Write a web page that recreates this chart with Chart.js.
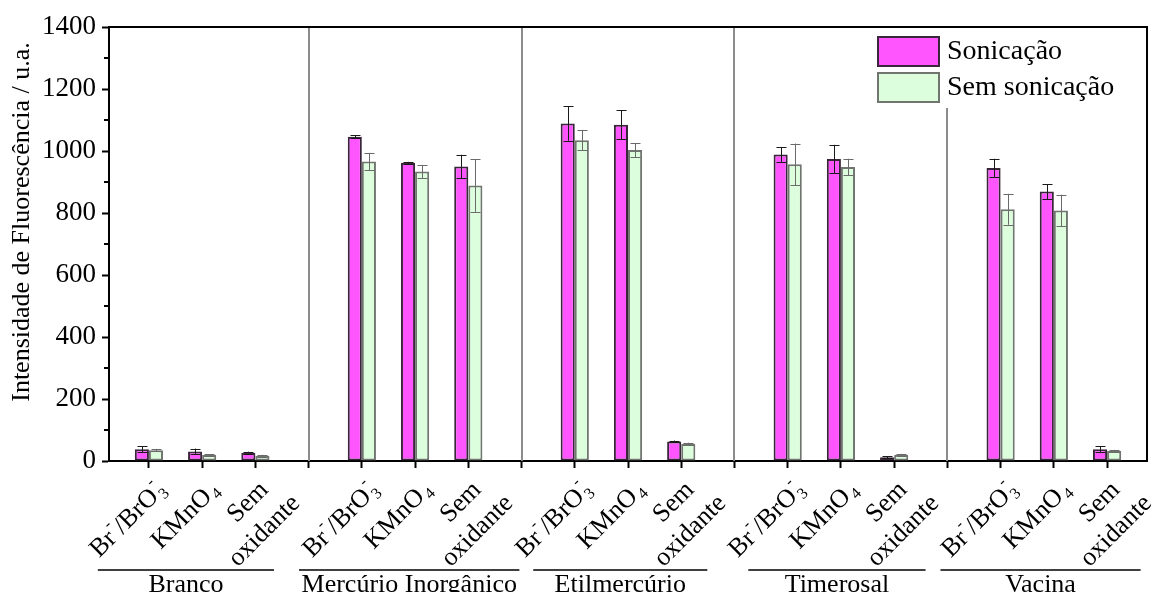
<!DOCTYPE html>
<html>
<head>
<meta charset="utf-8">
<script src="https://cdn.jsdelivr.net/npm/chart.js@4.4.1/dist/chart.umd.min.js"></script>
<style>
  html, body { margin: 0; padding: 0; background: #fff; }
  #wrap { width: 1155px; height: 592px; position: relative; }
</style>
</head>
<body>
<div id="wrap"><canvas id="c"></canvas></div>
<script>
// Sample groups and the oxidant treatments measured in each
const groups = ['Branco', 'Mercúrio Inorgânico', 'Etilmercúrio', 'Timerosal', 'Vacina'];
// Markup: _{..} subscript, ^{..} superscript, \n new line
const oxidants = ['Br^{-}/BrO_{3}^{-}', 'KMnO_{4}', 'Sem\noxidante'];

// Fluorescence intensity (u.a.), in group order, 3 oxidants per group
const sonicacao      = [38, 31, 27,   1046, 962, 950,   1089, 1085, 63,   989, 974, 12,   945, 869, 38];
const semSonicacao   = [35, 19, 17,   966, 934, 889,    1035, 1003, 55,   957, 948, 20,   812, 808, 32];
// Standard deviations
const errSonicacao    = [10, 9, 3,    5, 3, 38,     56, 47, 3,    24, 46, 3,    30, 24, 9];
const errSemSonicacao = [4, 3, 3,     28, 21, 85,   33, 23, 4,    67, 27, 3,    50, 51, 4];

const yTicks = [0, 200, 400, 600, 800, 1000, 1200, 1400];

// Group underline extents, in x-axis units
const groupSpans = [[-0.96, 2.35], [2.82, 6.96], [7.22, 10.49], [11.26, 14.59], [14.87, 18.63]];

// Each group takes 3 slots plus one empty slot as separator
const slot = (g, k) => g * 4 + k;
const xPositions = [];
groups.forEach((g, gi) => oxidants.forEach((o, k) => xPositions.push(slot(gi, k))));
const separators = groups.slice(1).map((g, gi) => slot(gi, 3));
const allTicks = [];
for (let v = 0; v <= slot(groups.length - 1, 2); v++) allTicks.push(v);

const SERIF = '"Liberation Serif", "Times New Roman", serif';

function parseRich(str) {
  // returns array of lines; each line is array of {t, kind, sup}
  return str.split('\n').map(line => {
    const segs = [];
    let i = 0;
    while (i < line.length) {
      const c = line[i];
      if ((c === '_' || c === '^') && line[i + 1] === '{') {
        const end = line.indexOf('}', i);
        const txt = line.slice(i + 2, end);
        i = end + 1;
        if (c === '^' && segs.length && segs[segs.length - 1].kind === 'sub') {
          segs[segs.length - 1].sup = txt;
        } else {
          segs.push({ t: txt, kind: c === '_' ? 'sub' : 'sup' });
        }
      } else {
        let j = i;
        while (j < line.length && !((line[j] === '_' || line[j] === '^') && line[j + 1] === '{')) j++;
        segs.push({ t: line.slice(i, j), kind: 'n' });
        i = j;
      }
    }
    return segs;
  });
}

function segWidth(ctx, s, size, small) {
  if (s.kind === 'n') { ctx.font = size + 'px ' + SERIF; return ctx.measureText(s.t).width; }
  ctx.font = small + 'px ' + SERIF;
  let w = ctx.measureText(s.t).width;
  if (s.sup) w = Math.max(w, ctx.measureText(s.sup).width);
  return w + 2;
}

function drawRichLine(ctx, segs, xEnd, size) {
  // draws line right-aligned so that it ends at xEnd, vertical middle at y=0
  const small = Math.round(size * 0.62);
  const total = segs.reduce((a, s) => a + segWidth(ctx, s, size, small), 0);
  let x = xEnd - total;
  ctx.textBaseline = 'middle';
  ctx.textAlign = 'left';
  segs.forEach(s => {
    const w = segWidth(ctx, s, size, small);
    if (s.kind === 'n') {
      ctx.font = size + 'px ' + SERIF;
      ctx.fillText(s.t, x, 0);
    } else {
      ctx.font = small + 'px ' + SERIF;
      if (s.kind === 'sub') {
        ctx.fillText(s.t, x + 2, size * 0.28);
        if (s.sup) ctx.fillText(s.sup, x + 2, -size * 0.42);
      } else {
        ctx.fillText(s.t, x + 1, -size * 0.42);
      }
    }
    x += w;
  });
  return total;
}

const decorations = {
  id: 'decorations',
  beforeDatasetsDraw(chart) {
    const { ctx, chartArea: a, scales: { x } } = chart;
    ctx.save();
    ctx.strokeStyle = '#8c8c8c';
    ctx.lineWidth = 2;
    separators.forEach(v => {
      const px = Math.round(x.getPixelForValue(v));
      ctx.beginPath();
      ctx.moveTo(px, a.top);
      ctx.lineTo(px, a.bottom);
      ctx.stroke();
    });
    ctx.restore();
  },
  afterDatasetsDraw(chart) {
    const { ctx, scales: { y } } = chart;
    const errs = [errSonicacao, errSemSonicacao];
    const colors = ['#1a1a1a', '#6a6a6a'];
    ctx.save();
    ctx.lineWidth = 1;
    chart.data.datasets.forEach((ds, di) => {
      const meta = chart.getDatasetMeta(di);
      ctx.strokeStyle = colors[di];
      meta.data.forEach((bar, i) => {
        const v = ds.data[i].y, e = errs[di][i];
        const cx = Math.round(bar.x) + 0.5;
        const y1 = y.getPixelForValue(v + e), y2 = y.getPixelForValue(v - e);
        ctx.beginPath();
        ctx.moveTo(cx, y1); ctx.lineTo(cx, y2);
        ctx.moveTo(cx - 5, Math.round(y1) + 0.5); ctx.lineTo(cx + 5, Math.round(y1) + 0.5);
        ctx.moveTo(cx - 5, Math.round(y2) + 0.5); ctx.lineTo(cx + 5, Math.round(y2) + 0.5);
        ctx.stroke();
      });
    });
    ctx.restore();
  },
  afterDraw(chart) {
    const { ctx, chartArea: a, scales: { x, y } } = chart;
    ctx.save();
    // frame top and right
    ctx.strokeStyle = '#000';
    ctx.lineWidth = 2;
    ctx.beginPath();
    ctx.moveTo(a.left - 1, a.top);
    ctx.lineTo(a.right, a.top);
    ctx.lineTo(a.right, a.bottom + 1);
    ctx.stroke();
    // minor y ticks
    for (let v = 100; v < 1400; v += 200) {
      const py = Math.round(y.getPixelForValue(v));
      ctx.beginPath();
      ctx.moveTo(a.left - 5, py);
      ctx.lineTo(a.left, py);
      ctx.stroke();
    }

    // legend
    const lx = a.right - 285, ly = a.top + 1;
    ctx.fillStyle = '#fff';
    ctx.fillRect(lx, ly, 283, 80);
    chart.data.datasets.forEach((ds, di) => {
      const bx = lx + 16, by = ly + 9 + di * 36;
      ctx.fillStyle = ds.backgroundColor;
      ctx.fillRect(bx, by, 61, 29);
      ctx.strokeStyle = ds.borderColor;
      ctx.lineWidth = 2;
      ctx.strokeRect(bx, by, 61, 29);
      ctx.fillStyle = '#000';
      ctx.font = '28px ' + SERIF;
      ctx.textAlign = 'left';
      ctx.textBaseline = 'middle';
      ctx.fillText(ds.label, bx + 69, by + 15);
    });

    // y-axis title
    ctx.save();
    ctx.translate(22, (a.top + a.bottom) / 2 - 22);
    ctx.rotate(-Math.PI / 2);
    ctx.fillStyle = '#000';
    ctx.font = '26px ' + SERIF;
    ctx.textAlign = 'center';
    ctx.textBaseline = 'middle';
    ctx.fillText('Intensidade de Fluorescência / u.a.', 0, 0);
    ctx.restore();

    // rotated oxidant labels
    const size = 26;
    const parsed = oxidants.map(parseRich);
    ctx.fillStyle = '#000';
    xPositions.forEach((xv, i) => {
      const lines = parsed[i % oxidants.length];
      const px = x.getPixelForValue(xv);
      ctx.save();
      ctx.translate(px + (lines.length > 1 ? 9 : 13), a.bottom + 25);
      ctx.rotate(-Math.PI / 4);
      const small = Math.round(size * 0.62);
      const widths = lines.map(l => l.reduce((s, seg) => s + segWidth(ctx, seg, size, small), 0));
      const w0 = widths[0];
      lines.forEach((l, li) => {
        ctx.save();
        ctx.translate(0, li * 32);
        // following lines stick out a little past the first one
        drawRichLine(ctx, l, (widths[li] - w0) * 0.3, size);
        ctx.restore();
      });
      ctx.restore();
    });

    // group underlines and names
    ctx.strokeStyle = '#000';
    ctx.lineWidth = 1.5;
    ctx.font = '26px ' + SERIF;
    ctx.textAlign = 'center';
    ctx.textBaseline = 'alphabetic';
    groups.forEach((g, gi) => {
      const x1 = x.getPixelForValue(groupSpans[gi][0]);
      const x2 = x.getPixelForValue(groupSpans[gi][1]);
      ctx.beginPath();
      ctx.moveTo(x1, 570);
      ctx.lineTo(x2, 570);
      ctx.stroke();
      ctx.fillText(g, (x1 + x2) / 2, 592);
    });
    ctx.restore();
  }
};

const toPoints = arr => arr.map((v, i) => ({ x: xPositions[i], y: v }));

new Chart(document.getElementById('c'), {
  type: 'bar',
  data: {
    datasets: [
      {
        label: 'Sonicação',
        data: toPoints(sonicacao),
        backgroundColor: '#ff55ff',
        borderColor: '#3a263a',
        borderWidth: 2,
        borderSkipped: false,
        categoryPercentage: 0.53,
        barPercentage: 1.0
      },
      {
        label: 'Sem sonicação',
        data: toPoints(semSonicacao),
        backgroundColor: '#dcfedc',
        borderColor: '#707570',
        borderWidth: 2,
        borderSkipped: false,
        categoryPercentage: 0.53,
        barPercentage: 1.0
      }
    ]
  },
  options: {
    responsive: true,
    maintainAspectRatio: false,
    animation: false,
    devicePixelRatio: 1,
    layout: { padding: { top: 27, right: 8, left: 0, bottom: 0 } },
    plugins: { legend: { display: false }, tooltip: { enabled: false } },
    scales: {
      x: {
        type: 'linear',
        offset: false,
        min: -0.75,
        max: 18.75,
        afterBuildTicks: s => { s.ticks = allTicks.map(v => ({ value: v })); },
        afterFit: s => { s.height = 131; },
        ticks: { display: false },
        grid: { offset: false, drawOnChartArea: false, drawTicks: true, tickLength: 7, tickWidth: 2, tickColor: '#000' },
        border: { color: '#000', width: 2 }
      },
      y: {
        min: 0,
        max: 1400,
        afterBuildTicks: s => { s.ticks = yTicks.map(v => ({ value: v })); },
        afterFit: s => { s.width = 109; },
        ticks: { color: '#000', padding: 6, font: { family: SERIF, size: 27 }, callback: v => String(v) },
        grid: { drawOnChartArea: false, drawTicks: true, tickLength: 7, tickWidth: 2, tickColor: '#000' },
        border: { color: '#000', width: 2 }
      }
    }
  },
  plugins: [decorations]
});
</script>
</body>
</html>
